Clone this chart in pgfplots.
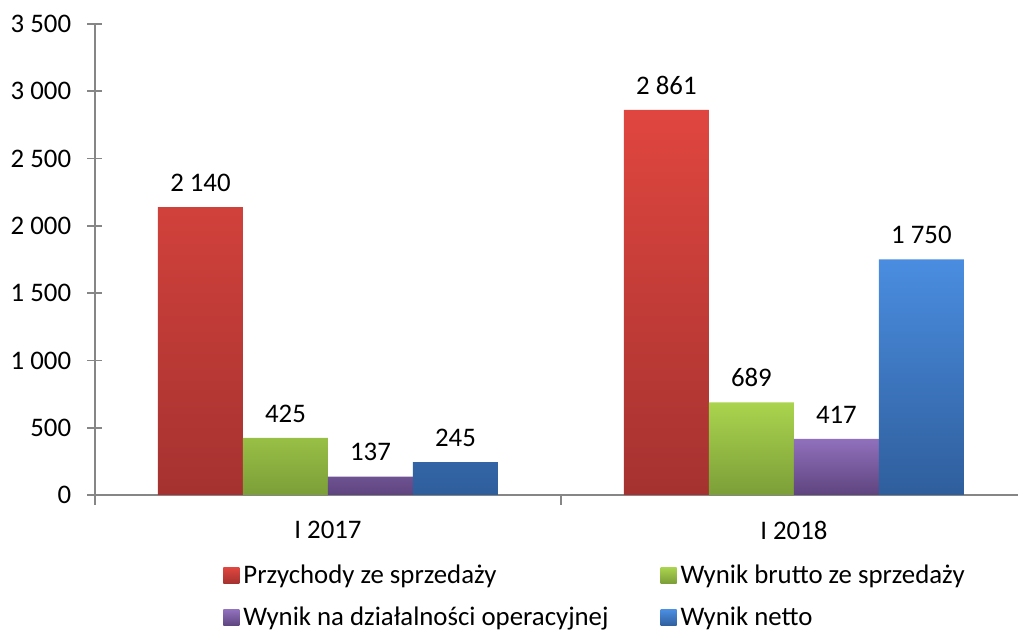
\documentclass[border=0pt]{standalone}
\usepackage{fontspec}
\setmainfont{Carlito}
\usepackage{pgfplots}
\pgfplotsset{compat=1.18}

\definecolor{redT}{HTML}{E0463F}
\definecolor{redB}{HTML}{A53230}
\definecolor{grnT}{HTML}{AAD44E}
\definecolor{grnB}{HTML}{7C9E38}
\definecolor{purT}{HTML}{9070BC}
\definecolor{purB}{HTML}{5E447E}
\definecolor{bluT}{HTML}{4A8DE0}
\definecolor{bluB}{HTML}{2F5E9C}
\definecolor{axgray}{HTML}{868686}

\begin{document}
\fontsize{13.4}{16}\selectfont
\begin{tikzpicture}
\begin{axis}[
    at={(0,0)}, anchor=south west,
    scale only axis,
    width=461.5pt, height=235.5pt,
    ybar=0pt, bar width=42.5pt,
    xmin=-0.5, xmax=1.481,
    ymin=0, ymax=3500,
    ytick={0,500,...,3500},
    xtick={0,1}, xticklabels={I 2017, I 2018},
    xtick style={draw=none},
    extra x ticks={-0.5,0.5},
    extra x tick labels={},
    extra x tick style={major tick length=5pt, tick align=outside,
        xtick style={draw=axgray, line width=0.8pt}},
    axis lines*=left,
    axis line style={draw=axgray, line width=0.8pt},
    ytick style={draw=axgray, line width=0.8pt},
    major tick length=7.5pt,
    ytick align=center,
    /pgf/number format/assume math mode=true,
    /pgf/number format/1000 sep={\ },
    /pgf/number format/fixed,
    yticklabel style={inner xsep=0pt, xshift=-8pt},
    xticklabel style={inner ysep=0pt, yshift=-5.5pt},
    tick label style={font=\fontsize{13.4}{16}\selectfont},
    nodes near coords,
    nodes near coords style={font=\fontsize{13.4}{16}\selectfont, inner sep=0pt, yshift=7.5pt},
    legend columns=2,
    legend cell align=left,
    legend style={draw=none, fill=none, inner sep=0pt,
        at={(0.1387,-0.138)}, anchor=north west,
        font=\fontsize{13.4}{16}\selectfont,
        row sep=6pt,
        /tikz/every even column/.append style={column sep=24pt},
        /tikz/every odd column/.append style={column sep=0pt}},
    legend image code/.code={\path[#1, draw=none] (0pt,-3.8pt) rectangle (8pt,4.2pt);},
]
\addplot[top color=redT, bottom color=redB, draw=none] coordinates {(0,2140) (1,2861)};
\addplot[top color=grnT, bottom color=grnB, draw=none] coordinates {(0,425) (1,689)};
\addplot[top color=purT, bottom color=purB, draw=none] coordinates {(0,137) (1,417)};
\addplot[top color=bluT, bottom color=bluB, draw=none] coordinates {(0,245) (1,1750)};
\legend{Przychody ze sprzedaży, Wynik brutto ze sprzedaży, Wynik na działalności operacyjnej, Wynik netto}
\end{axis}
\pgfresetboundingbox
\useasboundingbox (-47.5pt,-67.5pt) rectangle (461.5pt,247.5pt);
\end{tikzpicture}
\end{document}
